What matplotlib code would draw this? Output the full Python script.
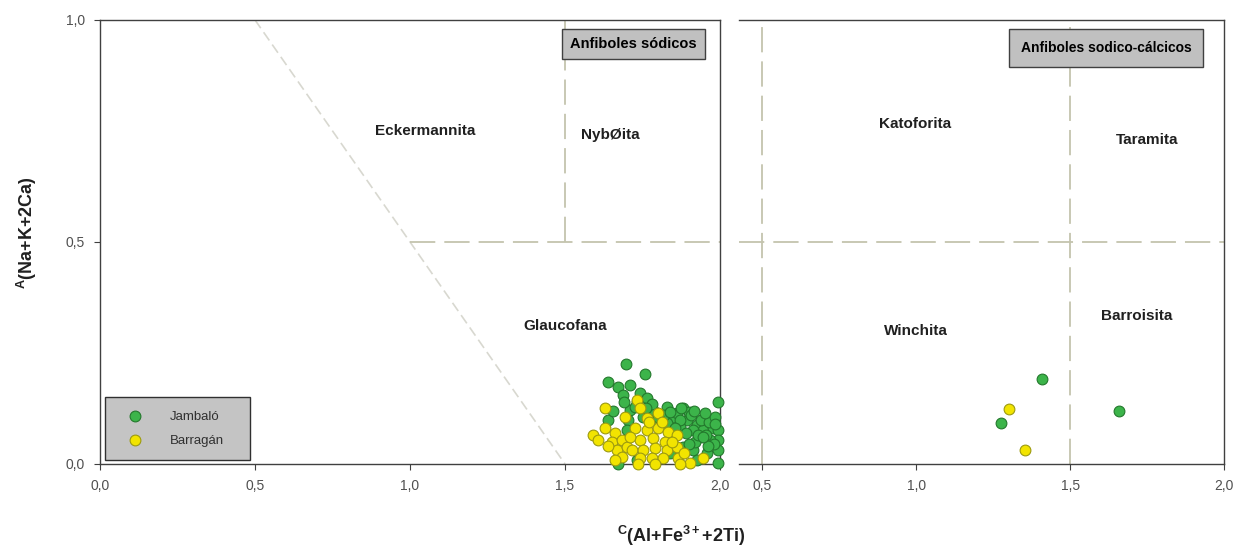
import matplotlib
matplotlib.use("Agg")
import matplotlib.pyplot as plt
from matplotlib.ticker import FuncFormatter

plt.rcParams['font.family'] = ['Liberation Sans', 'DejaVu Sans']
plt.rcParams['mathtext.fontset'] = 'custom'
plt.rcParams['mathtext.rm'] = 'Liberation Sans:bold'
plt.rcParams['mathtext.it'] = 'Liberation Sans:bold'
plt.rcParams['mathtext.bf'] = 'Liberation Sans:bold'

# Sodic amphiboles (left diagram)
jambalo_na_x = [1.697, 1.758, 1.639, 1.671, 1.710, 1.687, 1.742, 1.764, 1.732, 1.993,
                1.710, 1.784, 1.829, 1.881, 1.848, 1.893, 1.926, 1.945, 1.977, 1.993,
                1.993, 1.993, 1.993, 1.968, 1.935, 1.913, 1.958, 1.871, 1.829, 1.797,
                1.703, 1.700, 1.752, 1.848, 1.881, 1.839, 1.913, 1.926, 1.732, 1.670,
                1.810, 1.860, 1.900, 1.955, 1.980, 1.640, 1.780, 1.920, 1.870, 1.905,
                1.940, 1.965, 1.985, 1.855, 1.890, 1.930, 1.960, 1.820, 1.875, 1.915,
                1.950, 1.985, 1.760, 1.800, 1.840, 1.725, 1.690, 1.655, 1.900, 1.945]
jambalo_na_y = [0.225, 0.203, 0.185, 0.174, 0.178, 0.155, 0.160, 0.149, 0.140, 0.140,
                0.122, 0.122, 0.128, 0.126, 0.106, 0.099, 0.088, 0.077, 0.081, 0.077,
                0.054, 0.032, 0.002, 0.054, 0.061, 0.077, 0.025, 0.083, 0.092, 0.099,
                0.099, 0.077, 0.106, 0.061, 0.038, 0.025, 0.032, 0.009, 0.009, 0.000,
                0.110, 0.115, 0.118, 0.065, 0.045, 0.100, 0.135, 0.050, 0.100, 0.110,
                0.100, 0.095, 0.105, 0.080, 0.070, 0.065, 0.040, 0.110, 0.125, 0.120,
                0.115, 0.090, 0.125, 0.105, 0.118, 0.128, 0.140, 0.120, 0.045, 0.060]
barragan_na_x = [1.590, 1.606, 1.629, 1.661, 1.652, 1.684, 1.668, 1.700, 1.684, 1.732,
                 1.742, 1.694, 1.764, 1.800, 1.726, 1.764, 1.800, 1.832, 1.861, 1.742,
                 1.784, 1.823, 1.716, 1.752, 1.790, 1.829, 1.861, 1.742, 1.781, 1.816,
                 1.865, 1.903, 1.945, 1.735, 1.790, 1.871, 1.813, 1.629, 1.660, 1.710,
                 1.845, 1.885, 1.640, 1.770]
barragan_na_y = [0.065, 0.054, 0.081, 0.070, 0.050, 0.054, 0.032, 0.038, 0.016, 0.144,
                 0.126, 0.106, 0.104, 0.115, 0.081, 0.077, 0.081, 0.072, 0.065, 0.054,
                 0.059, 0.050, 0.032, 0.032, 0.036, 0.032, 0.038, 0.014, 0.014, 0.014,
                 0.014, 0.002, 0.014, 0.000, 0.000, 0.000, 0.095, 0.126, 0.010, 0.060,
                 0.050, 0.025, 0.040, 0.095]

# Sodic-calcic amphiboles (right diagram)
jambalo_nc_x = [1.409, 1.276, 1.659]
jambalo_nc_y = [0.191, 0.092, 0.119]
barragan_nc_x = [1.302, 1.354]
barragan_nc_y = [0.124, 0.032]

left_ticks = [0.0, 0.5, 1.0, 1.5, 2.0]
right_ticks = [0.5, 1.0, 1.5, 2.0]
y_ticks = [0.0, 0.5, 1.0]

green = dict(facecolor='#3cb44a', edgecolor='#23782c', linewidth=0.8, s=60, zorder=3)
yellow = dict(facecolor='#f2e400', edgecolor='#9c9a10', linewidth=0.8, s=60, zorder=4)
dash = dict(color='#c4c4ae', linewidth=1.3, linestyle=(0, (14, 5)), zorder=1)
box = dict(boxstyle='square,pad=0.55', facecolor='#c0c0c0', edgecolor='#404040', linewidth=1)

comma = FuncFormatter(lambda v, p: f'{v:.1f}'.replace('.', ','))

fig = plt.figure(figsize=(12.38, 5.5), dpi=100)
ax1 = fig.add_axes([0.0808, 0.1564, 0.5008, 0.8073])
ax2 = fig.add_axes([0.5970, 0.1564, 0.3917, 0.8073])

for ax in (ax1, ax2):
    ax.set_ylim(0, 1)
    for s in ax.spines.values():
        s.set_color('#404040')
        s.set_linewidth(1.0)
    ax.tick_params(direction='out', length=4, width=0.8, color='#404040',
                   labelcolor='#505050', labelsize=10, pad=7)
    ax.xaxis.set_major_formatter(comma)
    ax.yaxis.set_major_formatter(comma)

# left panel
ax1.set_xlim(0, 2)
ax1.set_xticks(left_ticks)
ax1.set_yticks(y_ticks)
ax1.plot([0.5, 1.5], [1.0, 0.0], color='#d8d8d0', linewidth=1.2,
         linestyle=(0, (6, 3)), zorder=1)
ax1.plot([1.0, 2.0], [0.5, 0.5], **dash)
ax1.plot([1.5, 1.5], [0.5, 1.0], **dash)

ax1.scatter(jambalo_na_x, jambalo_na_y, label='Jambaló', clip_on=False, **green)
ax1.scatter(barragan_na_x, barragan_na_y, label='Barragán', clip_on=False, **yellow)

lbl = dict(fontsize=11, fontweight='bold', color='#202020', ha='center', va='center')
ax1.text(1.05, 0.75, 'Eckermannita', **lbl)
ax1.text(1.645, 0.74, 'NybØita', **lbl)
ax1.text(1.50, 0.31, 'Glaucofana', **lbl)
ax1.text(1.72, 0.945, 'Anfiboles sódicos', fontsize=10.5, fontweight='bold',
         ha='center', va='center', bbox=box)

leg = ax1.legend(loc='lower left', bbox_to_anchor=(0.008, 0.009, 0.234, 0.151),
                 mode='expand', borderaxespad=0, borderpad=1.0, fancybox=False,
                 framealpha=1, facecolor='#c4c4c4', edgecolor='#303030',
                 fontsize=9.5, labelspacing=0.9, handletextpad=1.3,
                 handlelength=2.6, markerscale=1.0)
leg.get_frame().set_linewidth(1.0)
for t in leg.get_texts():
    t.set_color('#303030')

# right panel
ax2.set_xlim(0.425, 2.0)
ax2.set_xticks(right_ticks)
ax2.set_yticks([])
ax2.spines['left'].set_visible(False)
ax2.axhline(0.5, **dash)
ax2.axvline(0.5, **dash)
ax2.axvline(1.5, **dash)

ax2.scatter(jambalo_nc_x, jambalo_nc_y, **green)
ax2.scatter(barragan_nc_x, barragan_nc_y, **yellow)

ax2.text(0.996, 0.766, 'Katoforita', **lbl)
ax2.text(1.75, 0.73, 'Taramita', **lbl)
ax2.text(1.00, 0.30, 'Winchita', **lbl)
ax2.text(1.717, 0.333, 'Barroisita', **lbl)
ax2.text(1.617, 0.937, 'Anfiboles sodico-cálcicos', fontsize=10, fontweight='bold',
         ha='center', va='center', bbox=dict(box, boxstyle='square,pad=0.85'))

fig.text(0.550, 0.025, r'$^{\rm C}$(Al+Fe$^{3+}$+2Ti)', fontsize=13,
         fontweight='bold', color='#202020', ha='center', va='center')
fig.text(0.022, 0.578, r'$^{\rm A}$(Na+K+2Ca)', fontsize=13, fontweight='bold',
         color='#202020', ha='center', va='center', rotation=90)

fig.savefig('out.png', dpi=100)
